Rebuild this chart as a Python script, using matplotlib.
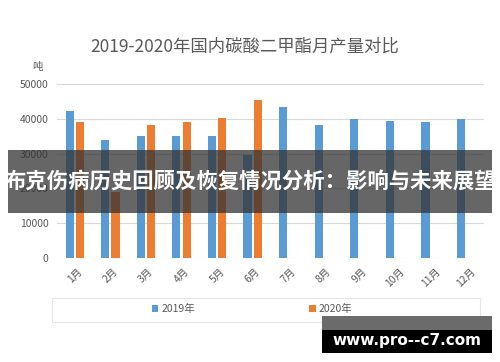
import numpy as np
import matplotlib
matplotlib.use('Agg')
import matplotlib.pyplot as plt
from matplotlib.patches import Rectangle

plt.rcParams['font.family'] = ['Noto Sans CJK SC', 'DejaVu Sans']

months = ['1月', '2月', '3月', '4月', '5月', '6月', '7月', '8月', '9月', '10月', '11月', '12月']
y2019 = [42200, 33900, 35000, 35200, 35000, 29600, 43400, 38200, 39800, 39400, 39100, 39900]
y2020 = [39000, 19000, 38200, 39000, 40100, 45400]
y_ticks = [0, 10000, 20000, 30000, 40000, 50000]

blue = '#5B9BD5'
orange = '#ED7D31'
grey = '#595959'

W, H = 500, 362
fig = plt.figure(figsize=(5.0, 3.62), dpi=100)
fig.patch.set_facecolor('white')

ax = fig.add_axes([57 / W, 1 - 258 / H, 427 / W, 174 / H])
x = np.arange(len(months))
w = 0.23
ax.bar(x - w / 2 - 0.03, y2019, width=w, color=blue, label='2019年', zorder=3)
ax.bar(x[:len(y2020)] + w / 2 + 0.03, y2020, width=w, color=orange, label='2020年', zorder=3)

ax.set_xlim(-0.5, len(months) - 0.5)
ax.set_ylim(0, 50000)
ax.set_yticks(y_ticks)
ax.set_yticklabels([str(v) for v in y_ticks], fontsize=7.5, color=grey)
ax.set_xticks(x)
ax.set_xticklabels(months, rotation=45, fontsize=7.5, color=grey)
ax.tick_params(length=0, pad=6)
ax.grid(axis='y', color='#d9d9d9', linewidth=0.8, zorder=0)
for s in ax.spines.values():
    s.set_visible(False)

fig.text(245 / W, 1 - 47 / H, '2019-2020年国内碳酸二甲酯月产量对比',
         ha='center', va='center', fontsize=12.5, color=grey)
fig.text(37 / W, 1 - 67 / H, '吨', ha='center', va='center', fontsize=7.5, color=grey)

# legend box
fig.add_artist(Rectangle((52 / W, 1 - 322 / H), 428 / W, 24 / H, transform=fig.transFigure,
                         fill=False, edgecolor='#e6e6e6', linewidth=0.8))
fig.legend(loc='center', bbox_to_anchor=(252 / W, 1 - 309 / H), ncol=2, frameon=False,
           fontsize=7.5, handlelength=0.6, handleheight=0.6, handletextpad=0.3,
           columnspacing=11, labelcolor=grey)

# overlay banner
fig.add_artist(Rectangle((8 / W, 1 - 213 / H), 484 / W, 63 / H, transform=fig.transFigure,
                         facecolor=(0.2, 0.2, 0.2, 0.75), edgecolor='none', zorder=10))
fig.text(250 / W, 1 - 182 / H, '布克伤病历史回顾及恢复情况分析：影响与未来展望',
         ha='center', va='center', fontsize=15.4, fontweight='bold', color='white', zorder=11)

# watermark
fig.add_artist(Rectangle((322 / W, 1 - 330 / H), 170 / W, 14 / H, transform=fig.transFigure,
                         facecolor='#6b6b6b', edgecolor='none', zorder=10))
fig.add_artist(Rectangle((322 / W, 1 - 353 / H), 170 / W, 23 / H, transform=fig.transFigure,
                         facecolor='black', edgecolor='none', zorder=10))
fig.text(407 / W, 1 - 340 / H, 'www.pro--c7.com', ha='center', va='center',
         fontsize=11, fontweight='bold', color='white', family='DejaVu Sans', zorder=11)

fig.savefig('out.png', dpi=100)
